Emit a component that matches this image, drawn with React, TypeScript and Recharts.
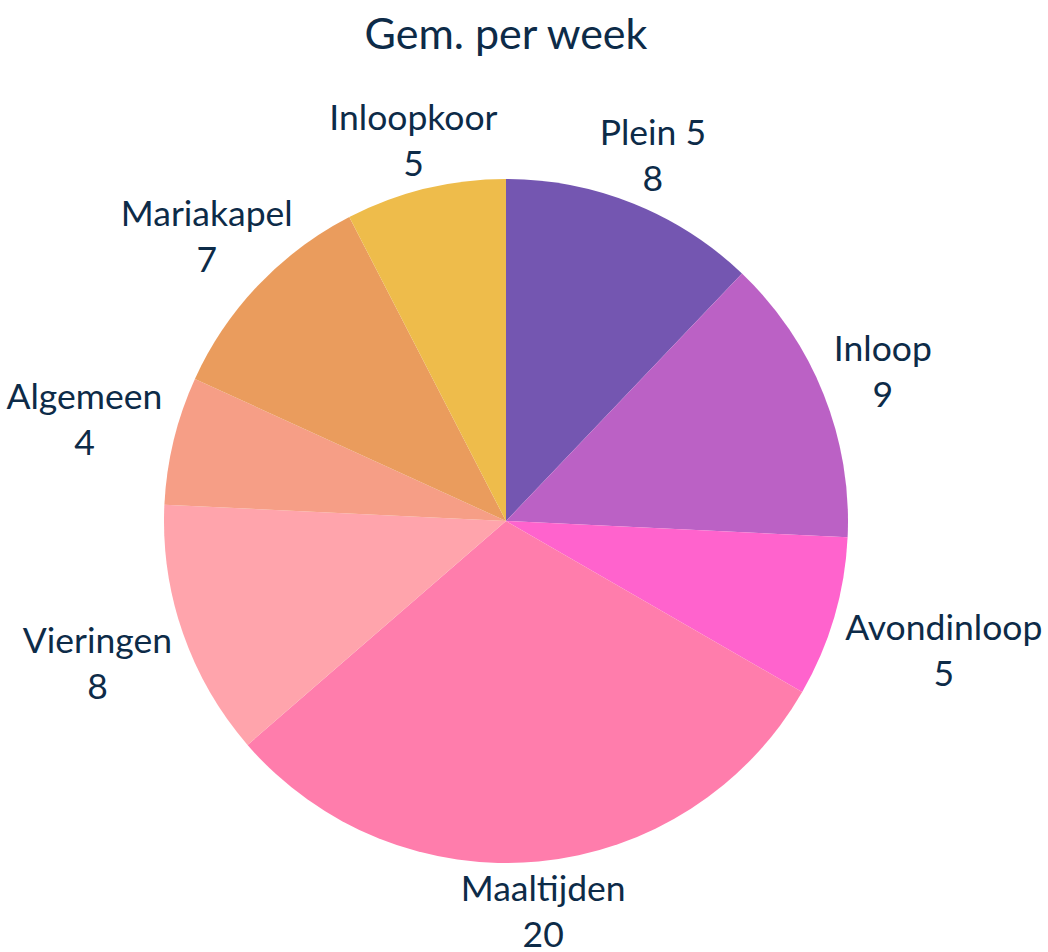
import { PieChart, Pie, Cell } from 'recharts';

const CATEGORIES = [
  'Plein 5',
  'Inloop',
  'Avondinloop',
  'Maaltijden',
  'Vieringen',
  'Algemeen',
  'Mariakapel',
  'Inloopkoor',
];
const VALUES = [8, 9, 5, 20, 8, 4, 7, 5];

const COLORS = [
  '#7456b1',
  '#bb61c5',
  '#ff63cd',
  '#ff7dac',
  '#ffa4ac',
  '#f69e86',
  '#ea9c5d',
  '#eebc4b',
];

const TEXT = '#0d2b48';
const FONT = 'Lato, "Noto Sans", sans-serif';
const LABEL_SIZE = 35.5;
const LINE_H = 46;

const RAD = Math.PI / 180;

let ctx: CanvasRenderingContext2D | null = null;
function textWidth(s: string): number {
  if (!ctx) ctx = document.createElement('canvas').getContext('2d');
  if (!ctx) return s.length * LABEL_SIZE * 0.5;
  ctx.font = `${LABEL_SIZE}px Lato`;
  return ctx.measureText(s).width;
}

// outside label, box placed just outside the rim along the mid-angle
function renderLabel(props: any) {
  const { cx, cy, midAngle, outerRadius, payload } = props;
  const ux = Math.cos(-midAngle * RAD);
  const uy = Math.sin(-midAngle * RAD);
  const name = payload.name as string;
  const val = String(payload.value);
  const w = Math.max(textWidth(name), textWidth(val));
  const h = LINE_H * 2 - 6;
  const dx = Math.abs(ux) > 1e-6 ? w / 2 / Math.abs(ux) : Infinity;
  const dy = Math.abs(uy) > 1e-6 ? h / 2 / Math.abs(uy) : Infinity;
  const d = Math.min(dx, dy) + 6 + 6 * ux * ux;
  const x = cx + ux * (outerRadius + d);
  const y = cy + uy * (outerRadius + d);
  return (
    <text
      x={x}
      y={y}
      textAnchor="middle"
      fill={TEXT}
      fontSize={LABEL_SIZE}
      fontFamily={FONT}
    >
      <tspan x={x} y={y - LINE_H / 2} dominantBaseline="central">
        {name}
      </tspan>
      <tspan x={x} y={y + LINE_H / 2} dominantBaseline="central">
        {val}
      </tspan>
    </text>
  );
}

export default function App() {
  const data = CATEGORIES.map((c, i) => ({ name: c, value: VALUES[i] }));

  return (
    <div style={{ position: 'absolute', left: 0, top: 0, width: 1048, height: 952, background: '#fff' }}>
      <div
        style={{
          position: 'absolute',
          left: 0,
          top: 7,
          width: 1012,
          textAlign: 'center',
          fontFamily: FONT,
          fontSize: 43,
          color: TEXT,
        }}
      >
        Gem. per week
      </div>
      <PieChart width={1048} height={952} margin={{ top: 0, right: 0, bottom: 0, left: 0 }}>
        <Pie
          data={data}
          dataKey="value"
          nameKey="name"
          cx={506}
          cy={521}
          outerRadius={342}
          startAngle={90}
          endAngle={-270}
          stroke="none"
          label={renderLabel}
          labelLine={false}
          isAnimationActive={false}
        >
          {data.map((d, i) => (
            <Cell key={d.name} fill={COLORS[i]} />
          ))}
        </Pie>
      </PieChart>
    </div>
  );
}
